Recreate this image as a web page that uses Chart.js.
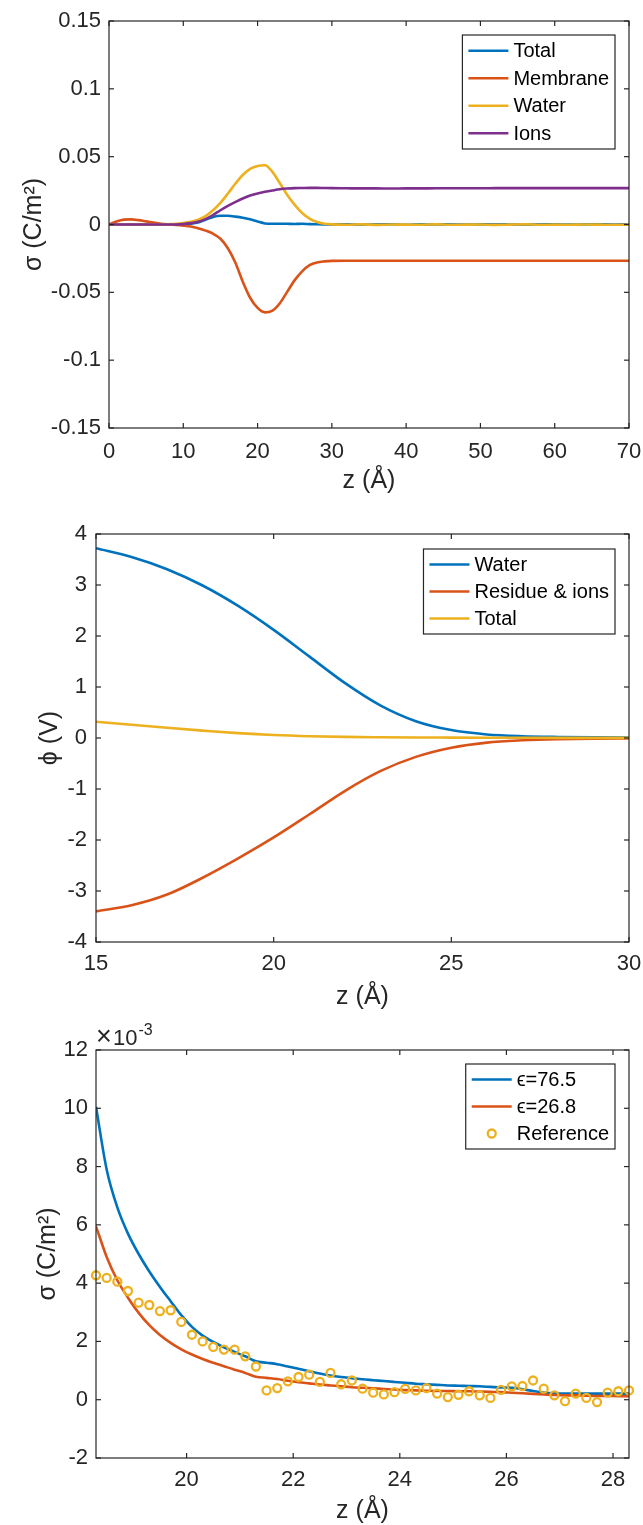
<!DOCTYPE html>
<html>
<head>
<meta charset="utf-8">
<script src="https://cdn.jsdelivr.net/npm/chart.js@4/dist/chart.umd.min.js"></script>
<style>
html, body { margin: 0; padding: 0; background: #fff; }
#wrap { position: relative; width: 643px; height: 1525px; }
canvas { position: absolute; left: 0; }
</style>
</head>
<body>
<div id="wrap">
  <canvas id="c1" width="643" height="500" style="top:0px"></canvas>
  <canvas id="c2" width="643" height="520" style="top:500px"></canvas>
  <canvas id="c3" width="643" height="505" style="top:1020px"></canvas>
</div>
<script>
const BLUE = '#0072BD', RED = '#D95319', YELLOW = '#EDB120', PURPLE = '#7E2F8E';
const INK = '#262626';
const FONT = '"Liberation Sans", Arial, Helvetica, sans-serif';

// --- panel 1: surface charge density vs z ---
const z1 = [0,1,2,3,4,5,6,7,8,9,10,11,12,13,14,15,16,17,18,19,20,21,22,23,24,25,26,27,28,29,30,
  32,34,36,38,40,42,44,46,48,50,52,54,56,58,60,62,64,66,68,70];
const total1 = [0,0,0,0,0,0,0,0,0,0,0.0002,0.0006,0.0015,0.0035,0.0056,0.0065,0.0064,0.0058,0.005,0.0038,
  0.0022,0.0008,0.0005,0.0006,0.0005,0.0004,0.0005,0.0003,0.0002,0.0001,0,
  0.0002,-0.0001,0.0001,0.0002,-0.0002,0.0001,0,0.0002,-0.0001,0.0001,0.0002,0,-0.0001,0.0002,0.0001,-0.0001,0.0001,0.0002,0,0.0001];
const membrane1 = [0,0.0022,0.0036,0.0038,0.0032,0.0023,0.0014,0.0006,0.0001,-0.0003,-0.0008,-0.0015,-0.0028,-0.0045,-0.0068,
  -0.0105,-0.0175,-0.028,-0.042,-0.054,-0.0615,-0.0648,-0.0635,-0.058,-0.0495,-0.041,-0.0345,-0.030,-0.028,-0.0272,-0.0268,
  -0.0267,-0.0267,-0.0267,-0.0267,-0.0267,-0.0267,-0.0267,-0.0267,-0.0267,-0.0267,-0.0267,-0.0267,-0.0267,-0.0267,-0.0267,-0.0267,-0.0267,-0.0267,-0.0267,-0.0267];
const water1 = [0,0,0,0,0,0,0,0,0.0002,0.0005,0.0011,0.002,0.0035,0.0062,0.0105,0.016,0.0228,0.030,0.0365,0.041,
  0.0432,0.0437,0.0388,0.0304,0.0218,0.0145,0.0085,0.0043,0.0018,0.0006,0.0001,
  -0.0002,0.0001,-0.0003,0,-0.0001,-0.0002,0.0001,-0.0002,-0.0001,0,-0.0003,-0.0001,0.0001,-0.0002,-0.0001,-0.0002,0,-0.0001,-0.0002,-0.0001];
const ions1 = [0,0,0,0,0,0,0,0,0,0,0.0003,0.001,0.002,0.004,0.007,0.0105,0.0137,0.0165,0.0192,0.0213,
  0.0229,0.0241,0.0251,0.026,0.0265,0.0268,0.0269,0.027,0.027,0.0269,0.0268,
  0.0267,0.0266,0.0266,0.0265,0.0266,0.0266,0.0267,0.0267,0.0267,0.0267,0.0268,0.0268,0.0268,0.0268,0.0268,0.0268,0.0268,0.0268,0.0268,0.0268];
const z1Ticks = [0,10,20,30,40,50,60,70];
const z1Labels = ['0','10','20','30','40','50','60','70'];
const sigma1Ticks = [-0.15,-0.1,-0.05,0,0.05,0.1,0.15];
const sigma1Labels = ['-0.15','-0.1','-0.05','0','0.05','0.1','0.15'];

// --- panel 2: potential vs z ---
const z2 = [15,16,17,18,19,20,21,22,23,24,25,26,27,28,29,30];
const phiWater = [3.72,3.55,3.31,2.99,2.59,2.12,1.60,1.08,0.64,0.33,0.155,0.07,0.035,0.02,0.012,0.01];
const phiResidue = [-3.40,-3.28,-3.07,-2.74,-2.36,-1.95,-1.50,-1.04,-0.65,-0.37,-0.19,-0.09,-0.045,-0.022,-0.012,-0.01];
const phiTotal = [0.32,0.26,0.20,0.145,0.095,0.058,0.035,0.022,0.015,0.01,0.008,0.006,0.004,0.003,0.002,0.002];
const z2Ticks = [15,20,25,30];
const z2Labels = ['15','20','25','30'];
const phiTicks = [-4,-3,-2,-1,0,1,2,3,4];
const phiLabels = ['-4','-3','-2','-1','0','1','2','3','4'];

// --- panel 3: sigma (x1e-3) vs z, two permittivities + reference ---
const z3 = [18.3,18.5,18.7,18.9,19.1,19.3,19.5,19.7,19.9,20.1,20.3,20.5,20.7,20.9,21.1,21.3,21.5,21.7,21.9,22.1,
  22.3,22.5,22.7,22.9,23.1,23.3,23.5,23.7,23.9,24.1,24.3,24.5,24.7,24.9,25.1,25.3,25.5,25.7,25.9,26.1,
  26.3,26.5,26.7,26.9,27.1,27.3,27.5,27.7,27.9,28.1,28.3];
const eps765 = [10.05,7.9,6.6,5.7,5.0,4.4,3.87,3.38,2.9,2.5,2.2,1.98,1.8,1.64,1.49,1.32,1.27,1.22,1.14,1.06,
  0.98,0.9,0.83,0.78,0.74,0.7,0.67,0.64,0.61,0.58,0.55,0.53,0.51,0.49,0.48,0.47,0.46,0.44,0.42,0.41,
  0.36,0.3,0.25,0.22,0.21,0.21,0.21,0.21,0.21,0.21,0.21];
const eps268 = [5.95,4.9,4.1,3.5,2.98,2.56,2.22,1.95,1.73,1.55,1.4,1.27,1.15,1.03,0.92,0.79,0.75,0.71,0.65,0.6,
  0.56,0.52,0.49,0.46,0.43,0.41,0.39,0.37,0.35,0.33,0.32,0.31,0.3,0.3,0.29,0.29,0.28,0.27,0.26,0.24,
  0.22,0.2,0.18,0.16,0.15,0.15,0.14,0.13,0.13,0.12,0.12];
const refSigma = [4.27,4.18,4.05,3.73,3.33,3.25,3.04,3.07,2.67,2.23,2.0,1.81,1.72,1.72,1.49,1.14,0.32,0.40,0.63,0.78,
  0.86,0.61,0.92,0.53,0.66,0.38,0.24,0.18,0.26,0.37,0.32,0.40,0.21,0.09,0.17,0.29,0.15,0.06,0.34,0.46,
  0.47,0.66,0.38,0.15,-0.05,0.21,0.06,-0.08,0.24,0.29,0.32];
const z3Ticks = [20,22,24,26,28];
const z3Labels = ['20','22','24','26','28'];
const sigma3Ticks = [-2,0,2,4,6,8,10,12];
const sigma3Labels = ['-2','0','2','4','6','8','10','12'];

Chart.defaults.font.family = FONT;
Chart.defaults.color = INK;

function pts(xs, ys) {
  return xs.map((x, i) => ({ x: x, y: ys[i] }));
}

function line(label, color, xs, ys) {
  return {
    label: label, data: pts(xs, ys), borderColor: color, backgroundColor: color,
    borderWidth: 2.6, pointRadius: 0, cubicInterpolationMode: 'monotone'
  };
}

// box, inward ticks on all four sides, legend inside the axes
const matlabFrame = {
  id: 'matlabFrame',
  afterDraw(chart, args, o) {
    const ctx = chart.ctx;
    const a = chart.chartArea;
    const xs = chart.scales.x, ys = chart.scales.y;
    ctx.save();
    ctx.strokeStyle = INK;
    ctx.lineWidth = 1.2;
    const seg = (x1, y1, x2, y2) => { ctx.beginPath(); ctx.moveTo(x1, y1); ctx.lineTo(x2, y2); ctx.stroke(); };
    xs.ticks.forEach(t => {
      const px = xs.getPixelForValue(t.value);
      seg(px, a.bottom, px, a.bottom - 5);
      seg(px, a.top, px, a.top + 5);
    });
    ys.ticks.forEach(t => {
      const py = ys.getPixelForValue(t.value);
      seg(a.left, py, a.left + 5, py);
      seg(a.right, py, a.right - 5, py);
    });
    ctx.strokeRect(a.left, a.top, a.right - a.left, a.bottom - a.top);

    // legend
    const ds = chart.data.datasets;
    ctx.font = '20px ' + FONT;
    const textW = Math.max(...ds.map(d => ctx.measureText(d.label).width));
    const w = 51 + textW + 6;
    const h = o.pad * 2 + ds.length * o.rowH;
    const lx = a.right - o.dx - w;
    const ly = a.top + o.dy;
    ctx.fillStyle = '#fff';
    ctx.fillRect(lx, ly, w, h);
    ctx.strokeStyle = INK;
    ctx.lineWidth = 1.2;
    ctx.strokeRect(lx, ly, w, h);
    ds.forEach((d, i) => {
      const cy = ly + o.pad + o.rowH * (i + 0.5);
      ctx.strokeStyle = d.borderColor;
      if (d.showLine === false) {
        ctx.lineWidth = d.pointBorderWidth;
        ctx.beginPath();
        ctx.arc(lx + 26, cy, d.pointRadius, 0, Math.PI * 2);
        ctx.stroke();
      } else {
        ctx.lineWidth = d.borderWidth;
        seg(lx + 6, cy, lx + 46, cy);
      }
      ctx.fillStyle = '#000';
      ctx.textAlign = 'left';
      ctx.textBaseline = 'middle';
      ctx.fillText(d.label, lx + 51, cy + 1);
    });

    // axis multiplier label
    if (o.exponent) {
      ctx.fillStyle = INK;
      ctx.textAlign = 'left';
      ctx.textBaseline = 'alphabetic';
      ctx.font = '27px ' + FONT;
      ctx.fillText('\u00d7', a.left, a.top - 5);
      ctx.font = '22px ' + FONT;
      ctx.fillText('10', a.left + 17, a.top - 5);
      const w10 = ctx.measureText('10').width;
      ctx.font = '16px ' + FONT;
      ctx.fillText(o.exponent, a.left + 17 + w10 + 1, a.top - 15);
    }
    ctx.restore();
  }
};

function makeChart(id, p) {
  const datasets = p.datasets.map((d, i) => Object.assign(d, { order: p.datasets.length - i }));
  return new Chart(document.getElementById(id), {
    type: 'line',
    data: { datasets: datasets },
    plugins: [matlabFrame],
    options: {
      responsive: false,
      animation: false,
      layout: { padding: { top: p.top, right: 14, left: 0, bottom: 0 } },
      plugins: {
        legend: { display: false },
        tooltip: { enabled: false },
        matlabFrame: { dx: 14, dy: p.legendDy, pad: 2, rowH: p.rowH, exponent: p.exponent || null }
      },
      scales: {
        x: {
          type: 'linear', min: p.xMin, max: p.xMax,
          afterBuildTicks: s => { s.ticks = p.xTicks.map(v => ({ value: v })); },
          afterFit: s => { s.height = p.xHeight; s.paddingLeft = 0; s.paddingRight = 0; },
          grid: { display: false, drawTicks: false },
          border: { display: false },
          ticks: {
            autoSkip: false, maxRotation: 0, padding: p.xPad, color: INK,
            font: { size: 22 }, callback: (v, i) => p.xLabels[i]
          },
          title: {
            display: true, text: 'z (\u00c5)', color: INK,
            font: { size: 25, lineHeight: 1 }, padding: { top: 0, bottom: p.xTitlePad }
          }
        },
        y: {
          type: 'linear', min: p.yMin, max: p.yMax,
          afterBuildTicks: s => { s.ticks = p.yTicks.map(v => ({ value: v })); },
          afterFit: s => { s.width = p.yWidth; s.paddingTop = 0; s.paddingBottom = 0; },
          grid: { display: false, drawTicks: false },
          border: { display: false },
          ticks: {
            autoSkip: false, padding: p.yPad, color: INK,
            font: { size: 22 }, callback: (v, i) => p.yLabels[i]
          },
          title: {
            display: true, text: p.yTitle, color: INK,
            font: { size: 25, lineHeight: 1 }, padding: { top: p.yTitlePad, bottom: 0 }
          }
        }
      }
    }
  });
}

makeChart('c1', {
  datasets: [
    line('Total', BLUE, z1, total1),
    line('Membrane', RED, z1, membrane1),
    line('Water', YELLOW, z1, water1),
    line('Ions', PURPLE, z1, ions1)
  ],
  top: 21, xHeight: 72, yWidth: 109, xPad: 11, xTitlePad: 6, yPad: 8, yTitlePad: 22,
  xMin: 0, xMax: 70, xTicks: z1Ticks, xLabels: z1Labels,
  yMin: -0.15, yMax: 0.15, yTicks: sigma1Ticks, yLabels: sigma1Labels,
  yTitle: '\u03c3 (C/m\u00b2)', legendDy: 14, rowH: 27.5
});

makeChart('c2', {
  datasets: [
    line('Water', BLUE, z2, phiWater),
    line('Residue & ions', RED, z2, phiResidue),
    line('Total', YELLOW, z2, phiTotal)
  ],
  top: 34, xHeight: 78, yWidth: 96, xPad: 9, xTitlePad: 10, yPad: 9, yTitlePad: 38,
  xMin: 15, xMax: 30, xTicks: z2Ticks, xLabels: z2Labels,
  yMin: -4, yMax: 4, yTicks: phiTicks, yLabels: phiLabels,
  yTitle: '\u03d5 (V)', legendDy: 15, rowH: 27
});

makeChart('c3', {
  datasets: [
    line('\u03f5=76.5', BLUE, z3, eps765),
    line('\u03f5=26.8', RED, z3, eps268),
    {
      label: 'Reference', data: pts(z3, refSigma), showLine: false, clip: false,
      borderColor: YELLOW, backgroundColor: 'rgba(0,0,0,0)',
      pointRadius: 4, pointBorderWidth: 2.3, pointBackgroundColor: 'rgba(0,0,0,0)'
    }
  ],
  top: 30, xHeight: 67, yWidth: 96, xPad: 9, xTitlePad: 1, yPad: 8, yTitlePad: 36,
  xMin: 18.3, xMax: 28.3, xTicks: z3Ticks, xLabels: z3Labels,
  yMin: -2, yMax: 12, yTicks: sigma3Ticks, yLabels: sigma3Labels,
  yTitle: '\u03c3 (C/m\u00b2)', legendDy: 14, rowH: 27, exponent: '-3'
});
</script>
</body>
</html>
